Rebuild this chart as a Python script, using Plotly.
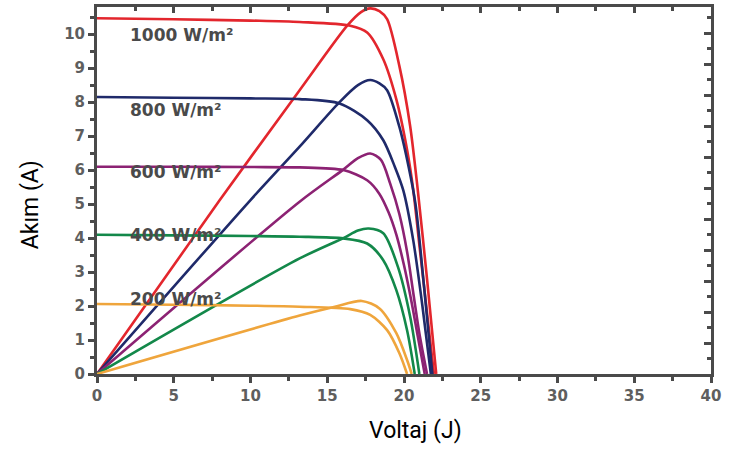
import plotly.graph_objects as go

# Irradiance levels
labels = ["1000 W/m²", "800 W/m²", "600 W/m²", "400 W/m²", "200 W/m²"]
label_y = [9.97, 7.76, 5.93, 4.09, 2.2]
colors = ["#e3262d", "#1f2a6a", "#8c2273", "#13884a", "#efa53c"]

# I-V curves (voltage, current)
iv_1000_v = [0, 5, 10, 13.2, 16.5, 17.6, 18.65, 19.5, 20.2, 20.6, 21.0, 21.5, 21.95]
iv_1000_i = [10.47, 10.44, 10.40, 10.36, 10.25, 10.05, 9.26, 8.08, 6.6, 5.43, 3.8, 1.8, 0]
iv_800_v = [0, 5, 10, 13.2, 15.8, 17.6, 18.65, 19.4, 19.95, 20.6, 21.2, 21.75]
iv_800_i = [8.15, 8.13, 8.11, 8.09, 7.96, 7.47, 6.88, 6.1, 5.41, 3.94, 2.0, 0]
iv_600_v = [0, 5, 10, 13.2, 16.05, 17.6, 18.4, 19.0, 19.5, 20.0, 20.5, 20.9, 21.35]
iv_600_i = [6.1, 6.1, 6.09, 6.08, 6.0, 5.7, 5.3, 4.75, 4.1, 3.2, 2.1, 1.1, 0]
iv_400_v = [0, 5, 10, 13.2, 16.05, 17.6, 18.65, 19.5, 20.2, 20.7]
iv_400_i = [4.1, 4.08, 4.06, 4.04, 3.99, 3.84, 3.35, 2.47, 1.29, 0]
iv_200_v = [0, 5, 10, 13.2, 16.5, 17.8, 18.9, 19.7, 20.2]
iv_200_i = [2.06, 2.04, 2.01, 1.98, 1.91, 1.74, 1.29, 0.61, 0]

# P-V curves (voltage, plotted value on the current scale)
pv_1000_v = [0, 8, 13.2, 16.3, 17.2, 17.8, 18.4, 18.9, 19.7, 20.4, 20.9, 21.5, 22.1]
pv_1000_p = [0, 5.12, 8.35, 10.25, 10.65, 10.76, 10.68, 10.44, 9.06, 7.3, 5.4, 2.8, 0]
pv_800_v = [0, 10, 13.2, 15.8, 17.0, 17.8, 18.4, 18.9, 19.7, 20.3, 20.75, 21.3, 21.85]
pv_800_p = [0, 5.12, 6.69, 8.0, 8.5, 8.65, 8.55, 8.35, 7.27, 6.1, 5.0, 2.6, 0]
pv_600_v = [0, 13.2, 16.0, 17.0, 17.8, 18.5, 19.1, 19.7, 20.2, 20.6, 21.0, 21.5]
pv_600_p = [0, 5.07, 6.0, 6.35, 6.49, 6.3, 5.6, 4.7, 3.6, 2.4, 1.2, 0]
pv_400_v = [0, 13.2, 16.05, 17.0, 17.7, 18.65, 19.6, 20.4, 21.0]
pv_400_p = [0, 3.4, 4.0, 4.22, 4.28, 4.14, 3.16, 1.69, 0]
pv_200_v = [0, 13.2, 15.5, 17.25, 18.4, 19.5, 20.2, 20.5]
pv_200_p = [0, 1.72, 1.98, 2.15, 1.93, 1.2, 0.41, 0]

iv_sets = [(iv_1000_v, iv_1000_i), (iv_800_v, iv_800_i), (iv_600_v, iv_600_i),
           (iv_400_v, iv_400_i), (iv_200_v, iv_200_i)]
pv_sets = [(pv_1000_v, pv_1000_p), (pv_800_v, pv_800_p), (pv_600_v, pv_600_p),
           (pv_400_v, pv_400_p), (pv_200_v, pv_200_p)]

x_ticks = [0, 5, 10, 15, 20, 25, 30, 35, 40]
y_ticks = [0, 1, 2, 3, 4, 5, 6, 7, 8, 9, 10]

fig = go.Figure()
for k in range(len(labels)):
    v, i = iv_sets[k]
    fig.add_trace(go.Scatter(x=v, y=i, mode="lines", showlegend=False,
                             line=dict(color=colors[k], width=2.6, shape="spline", smoothing=0.8)))
    v, p = pv_sets[k]
    fig.add_trace(go.Scatter(x=v, y=p, mode="lines", showlegend=False,
                             line=dict(color=colors[k], width=2.6, shape="spline", smoothing=0.8)))

# empty trace so that the top/right frame axes are drawn
fig.add_trace(go.Scatter(x=[None], y=[None], xaxis="x2", yaxis="y2", mode="lines",
                         showlegend=False, hoverinfo="skip"))

for k in range(len(labels)):
    fig.add_annotation(x=2.0, y=label_y[k], xref="x", yref="y", text=labels[k],
                       showarrow=False, xanchor="left", yanchor="middle",
                       font=dict(family="DejaVu Sans", size=17, color="#4a4a4a", weight="bold"))

axis_col = "#4a4a4a"
tickfont = dict(family="DejaVu Sans", size=15, color="#5e5e5e", weight="bold")

fig.update_layout(
    width=737, height=454,
    margin=dict(l=97, r=26, t=7, b=80),
    paper_bgcolor="white", plot_bgcolor="white",
    xaxis=dict(range=[0, 40], tickvals=x_ticks, ticks="outside", ticklen=6, tickwidth=2.5,
               tickcolor=axis_col, showline=True, linecolor=axis_col, linewidth=3,
               showgrid=False, zeroline=False, tickfont=tickfont,
               minor=dict(dtick=2.5, ticks="outside", ticklen=4, tickwidth=2.5, tickcolor=axis_col)),
    yaxis=dict(range=[0, 10.8], tickvals=y_ticks, ticks="outside", ticklen=6, tickwidth=2.5,
               tickcolor=axis_col, showline=True, linecolor=axis_col, linewidth=3,
               showgrid=False, zeroline=False, tickfont=tickfont,
               minor=dict(dtick=0.5, ticks="outside", ticklen=4, tickwidth=2.5, tickcolor=axis_col)),
    xaxis2=dict(range=[0, 40], overlaying="x", side="top", anchor="y", dtick=5, tick0=0,
                ticks="inside", ticklen=6, tickwidth=2.5, tickcolor=axis_col,
                showline=True, linecolor=axis_col, linewidth=3, showgrid=False,
                zeroline=False, showticklabels=False,
                minor=dict(dtick=2.5, ticks="inside", ticklen=4, tickwidth=2.5, tickcolor=axis_col)),
    yaxis2=dict(range=[0, 23.7], overlaying="y", side="right", anchor="x", dtick=2, tick0=0,
                ticks="inside", ticklen=7, tickwidth=2.5, tickcolor=axis_col,
                showline=True, linecolor=axis_col, linewidth=3, showgrid=False,
                zeroline=False, showticklabels=False,
                minor=dict(dtick=1, ticks="inside", ticklen=4, tickwidth=2.5, tickcolor=axis_col)),
)

fig.add_annotation(x=0.518, y=-0.153, xref="paper", yref="paper", text="Voltaj (J)",
                   showarrow=False, xanchor="center", yanchor="middle",
                   font=dict(family="Roboto", size=23, color="black"))
fig.add_annotation(x=-0.109, y=0.46, xref="paper", yref="paper", text="Akım (A)",
                   showarrow=False, xanchor="center", yanchor="middle", textangle=-90,
                   font=dict(family="Roboto", size=23, color="black"))

fig.write_html("out.html", config={"displayModeBar": False},
               post_script="document.body.style.margin='0px';")
